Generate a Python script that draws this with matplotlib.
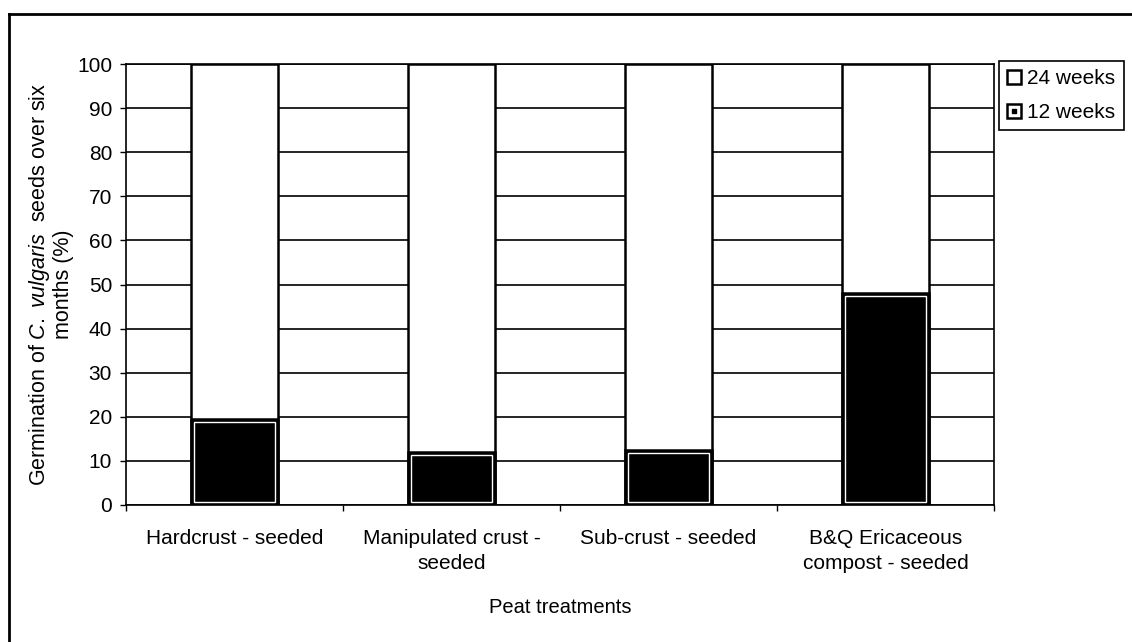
import matplotlib.pyplot as plt
from matplotlib.lines import Line2D
from matplotlib.legend_handler import HandlerTuple

plt.rcParams['font.family'] = ['Liberation Sans', 'DejaVu Sans']
plt.rcParams['mathtext.fontset'] = 'custom'
plt.rcParams['mathtext.it'] = 'Liberation Sans:italic'
plt.rcParams['mathtext.rm'] = 'Liberation Sans'

# germination data (%)
treatments = ["Hardcrust - seeded", "Manipulated crust -\nseeded",
              "Sub-crust - seeded", "B&Q Ericaceous\ncompost - seeded"]
weeks24 = [100, 100, 100, 100]
weeks12 = [19.5, 12, 12.5, 48]

fig = plt.figure(figsize=(11.32, 6.42), dpi=100)
ax = fig.add_axes([0.1113, 0.2134, 0.7668, 0.6869])

x = range(len(treatments))
w = 0.40
ax.bar(x, weeks24, width=w, color='white', edgecolor='black', linewidth=1.8, zorder=2)
ax.bar(x, weeks12, width=w, color='black', edgecolor='black', linewidth=1.8, zorder=3)
# thin light inner rim on the dark bars
ax.bar(x, [v - 1.2 for v in weeks12], bottom=0.6, width=w - 0.025, color='none',
       edgecolor='white', linewidth=1.0, zorder=4)

ax.set_xlim(-0.5, len(treatments) - 0.5)
ax.set_ylim(0, 100)
ax.set_yticks(range(0, 101, 10))
ax.set_xticks(list(x))
ax.set_xticklabels(treatments, fontsize=15, linespacing=1.4)
ax.set_xticks([i - 0.5 for i in range(len(treatments) + 1)], minor=True)
ax.tick_params(axis='x', which='major', length=0, pad=17)
ax.tick_params(axis='x', which='minor', length=4, width=1)
ax.tick_params(axis='y', length=4, width=1, labelsize=15, pad=6)
ax.yaxis.grid(True, color='black', linewidth=1.2, zorder=0)
ax.set_axisbelow(True)
for s in ax.spines.values():
    s.set_linewidth(1.2)
    s.set_color('black')

ax.set_ylabel("Germination of $\\it{C.\\ vulgaris}$  seeds over six\nmonths (%)",
              fontsize=15.5, labelpad=2, linespacing=1.1)
ax.set_xlabel("Peat treatments", fontsize=14.5, labelpad=18)

h24 = Line2D([], [], marker='s', markersize=10, mfc='white', mec='black', mew=1.8, ls='none')
h12a = Line2D([], [], marker='s', markersize=10, mfc='white', mec='black', mew=1.8, ls='none')
h12b = Line2D([], [], marker='s', markersize=3.5, mfc='black', mec='black', ls='none')
leg = fig.legend([h24, (h12a, h12b)], ["24 weeks", "12 weeks"],
                 handler_map={tuple: HandlerTuple(ndivide=1)},
                 loc='upper left', bbox_to_anchor=(0.8825, 0.905),
                 fontsize=15, fancybox=False, edgecolor='black', framealpha=1,
                 handlelength=0.6, handletextpad=0.35, labelspacing=0.7,
                 borderpad=0.4, borderaxespad=0)
leg.get_frame().set_linewidth(1.2)

# outer chart frame
fig.add_artist(Line2D([0.008, 0.008], [0.0, 0.978], color='black', lw=2))
fig.add_artist(Line2D([0.008, 1.0], [0.978, 0.978], color='black', lw=2))

fig.savefig("out.png", dpi=100)
